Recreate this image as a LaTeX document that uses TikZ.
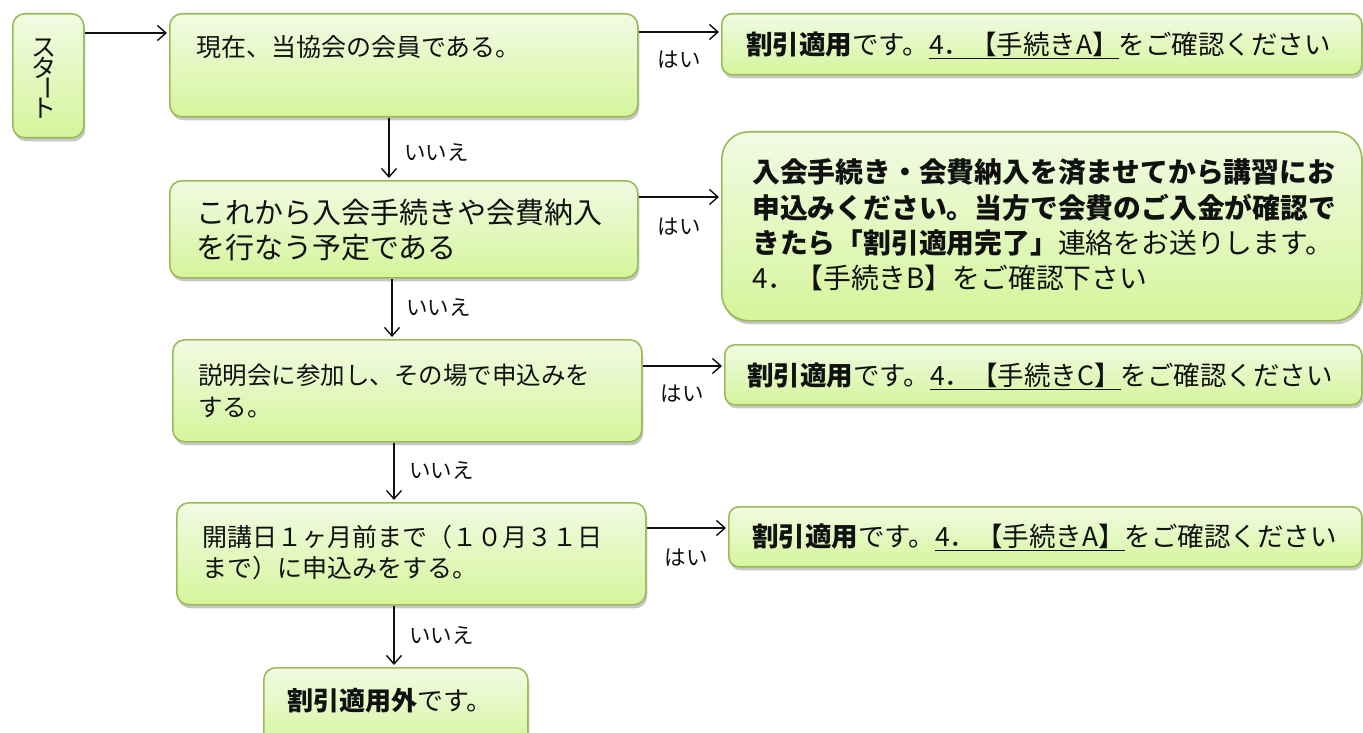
\documentclass[tikz,border=0pt]{standalone}
\usepackage{fontspec}
\setmainfont{Noto Sans CJK JP}
\usetikzlibrary{arrows.meta,shadows}
\definecolor{boxline}{HTML}{9BBB59}
\definecolor{boxtop}{HTML}{F1FBE3}
\definecolor{boxbot}{HTML}{D5F59B}
\definecolor{inkc}{HTML}{111111}
\newcommand{\jfs}[2]{\fontsize{#1}{#2}\selectfont}
\newcommand{\vch}[1]{\hbox to 26pt{\hss\vbox to 20pt{\vss\hbox{#1}\vss}\hss}}
\newcommand{\uln}[1]{\underline{#1}}
\tikzset{
  gbox/.style={draw=boxline, line width=1.6pt, rounded corners=12pt,
    top color=boxtop, bottom color=boxbot, anchor=north west, inner sep=0pt,
    drop shadow={shadow xshift=1.5pt, shadow yshift=-3.5pt, opacity=0.3, fill=black!70}},
  conn/.style={draw=inkc, line width=1.4pt,
    -{Straight Barb[length=8.5pt,width=15pt,line width=1.4pt]}, shorten >=2pt},
  lbl/.style={inner sep=0pt, text=inkc, font=\jfs{21.5}{24}},
  txt/.style={inner sep=0pt, anchor=west, align=left, text=inkc},
}
\begin{document}
\begin{tikzpicture}[x=1pt,y=-1pt]
\useasboundingbox (0,0) rectangle (1363,733);
\fill[white] (0,0) rectangle (1363,733);
\clip (0,0) rectangle (1363,733);

% boxes
\node[gbox, minimum width=71pt, minimum height=124pt] (start) at (12,13) {};
\node[gbox, minimum width=468pt, minimum height=103pt] (q1) at (169,13) {};
\node[gbox, minimum width=468pt, minimum height=97pt] (q2) at (169,180) {};
\node[gbox, minimum width=469pt, minimum height=102pt] (q3) at (172,339) {};
\node[gbox, minimum width=469pt, minimum height=102pt] (q4) at (176,502) {};
\node[gbox, rounded corners=10pt, minimum width=640pt, minimum height=61pt] (r1) at (721,13) {};
\node[gbox, rounded corners=27pt, minimum width=640pt, minimum height=189pt] (r2) at (721,131) {};
\node[gbox, rounded corners=10pt, minimum width=637pt, minimum height=60pt] (r3) at (724,344) {};
\node[gbox, rounded corners=10pt, minimum width=633pt, minimum height=60pt] (r4) at (728,506) {};
\node[gbox, minimum width=264pt, minimum height=82pt] (stop) at (263,667) {};

% texts
\node[inner sep=0pt, text=inkc, font=\jfs{25}{20}] (startt) at (44,78)
  {\vbox{\offinterlineskip\vch{ス}\vch{タ}\vch{\rotatebox[origin=c]{-90}{ー}}\vch{ト}}};
\node[txt, font=\jfs{25}{30}] (q1t) at (196,47) {現在、当協会の会員である。};
\node[txt, font=\jfs{29}{35}] (q2t) at (196,230.5) {これから入会手続きや会費納入\\を行なう予定である};
\node[txt, font=\jfs{24.5}{32}] (q3t) at (198,391) {説明会に参加し、その場で申込みを\\する。};
\node[txt, font=\jfs{25}{31.5}] (q4t) at (202,552.5) {開講日１ヶ月前まで（１０月３１日\\まで）に申込みをする。};
\node[txt, font=\jfs{26.5}{30}] (r1t) at (746,45) {\textbf{割引適用}です。\uln{4．【手続きA】}をご確認ください};
\node[txt, font=\jfs{27.8}{35.3}] (r2t) at (752,225)
  {\textbf{入会手続き・会費納入を済ませてから講習にお}\\
   \textbf{申込みください。当方で会費のご入金が確認で}\\
   \textbf{きたら「割引適用完了」}連絡をお送りします。\\
   4．【手続きB】をご確認下さい};
\node[txt, font=\jfs{26.5}{30}] (r3t) at (747,376) {\textbf{割引適用}です。\uln{4．【手続きC】}をご確認ください};
\node[txt, font=\jfs{26.5}{30}] (r4t) at (752,537) {\textbf{割引適用}です。\uln{4．【手続きA】}をご確認ください};
\node[txt, font=\jfs{26}{30}] (stopt) at (287,701) {\textbf{割引適用外}です。};

% level coordinates
\coordinate (y0) at (0,33);
\coordinate (y1) at (0,32);
\coordinate (y2) at (0,197);
\coordinate (y3) at (0,366);
\coordinate (y4) at (0,528);
\coordinate (x1) at (389,0);
\coordinate (x2) at (392,0);
\coordinate (x3) at (394,0);
\coordinate (x4) at (394,0);

% connectors
\draw[conn] (start.east |- y0) -- (q1.west |- y0);
\draw[conn] (q1.east |- y1) -- (r1.west |- y1);
\draw[conn] (q2.east |- y2) -- (r2.west |- y2);
\draw[conn] (q3.east |- y3) -- (r3.west |- y3);
\draw[conn] (q4.east |- y4) -- (r4.west |- y4);
\draw[conn] (q1.south -| x1) -- (q2.north -| x1);
\draw[conn] (q2.south -| x2) -- (q3.north -| x2);
\draw[conn] (q3.south -| x3) -- (q4.north -| x3);
\draw[conn] (q4.south -| x4) -- (stop.north -| x4);

% labels
\node[lbl] (h1) at (679,60) {はい};
\node[lbl] (h2) at (679,227) {はい};
\node[lbl] (h3) at (682,394) {はい};
\node[lbl] (h4) at (686,558) {はい};
\node[lbl, anchor=west] (n1) at (404,152) {いいえ};
\node[lbl, anchor=west] (n2) at (406,307) {いいえ};
\node[lbl, anchor=west] (n3) at (409,470) {いいえ};
\node[lbl, anchor=west] (n4) at (409,635) {いいえ};
\end{tikzpicture}
\end{document}
